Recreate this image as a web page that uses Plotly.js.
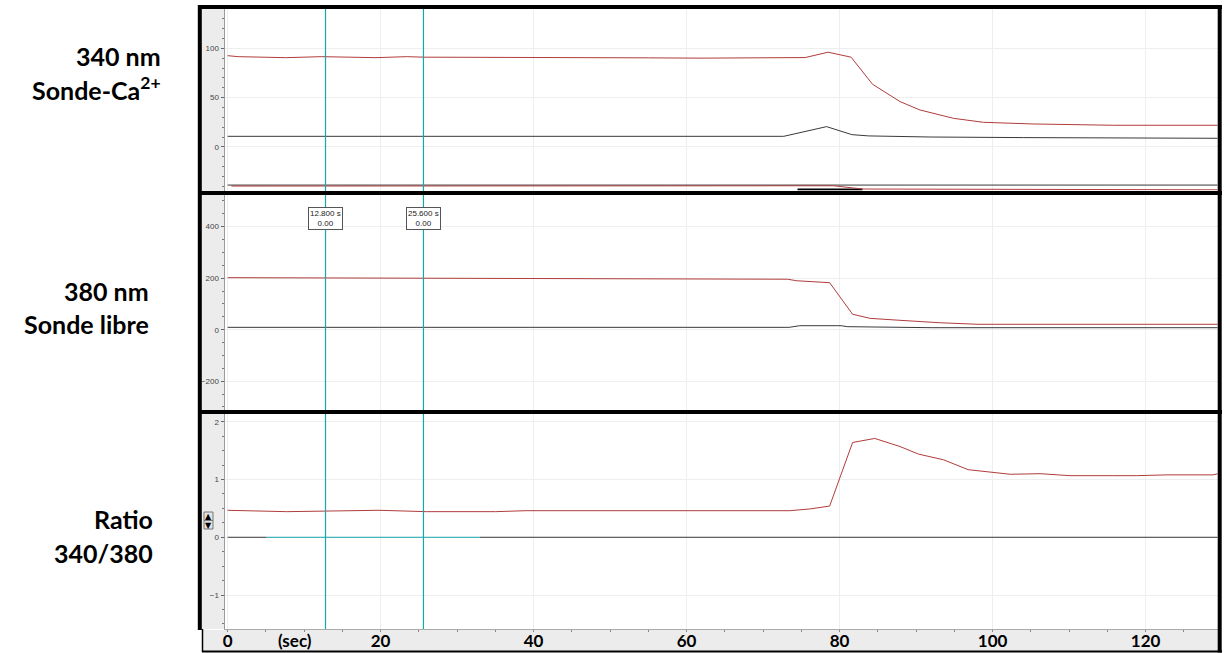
<!DOCTYPE html>
<html><head><meta charset="utf-8">
<script src="https://cdn.plot.ly/plotly-3.0.1.min.js"></script>
<style>html,body{margin:0;padding:0;background:#fff}</style>
</head><body><div id="chart" style="width:1230px;height:653px"></div>
<script>
// ---------- data (time in s) ----------
// Panel 1 : 340 nm (Sonde-Ca2+)
const t340Red = [0, 1.4, 7.6, 12.3, 19.4, 23.4, 25.6, 33, 43.9, 48, 55, 62, 66, 70, 73, 75.5, 78.5, 81.5, 84.3, 87.9, 90.5, 94.9, 98.8, 105.3, 115.8, 129.5];
const v340Red = [92.5, 91.5, 90.5, 91.5, 90.5, 91.5, 91, 91, 90.3, 90.5, 90.3, 90, 90, 90, 90.5, 90.6, 96, 91, 63.6, 46, 37.5, 29, 25, 23.3, 22, 22];
const t340Blk = [0, 72.7, 78.3, 81.6, 83.8, 91.8, 104, 122.4, 129.5];
const v340Blk = [10.8, 10.8, 20.6, 12.5, 11.2, 10.1, 9.5, 8.8, 8.8];
const t340LowBlk = [0, 129.5];
const v340LowBlk = [-38.6, -38.6];
const t340LowRed = [0.5, 4.5, 4.6, 30, 79.2, 83, 129.5];
const v340LowRed = [-39.6, -39.6, -39.3, -39.3, -39.3, -42.6, -43.4];
const t340LowBlk2 = [74.5, 83];
const v340LowBlk2 = [-43.2, -43.2];

// Panel 2 : 380 nm (Sonde libre)
const t380Red = [0, 35, 73.2, 74.4, 78.7, 81.7, 84, 87.9, 93.1, 98.1, 129.5];
const v380Red = [202, 198, 196, 190, 182.5, 60, 44, 36.5, 27, 21, 21];
const t380Blk = [0, 73.4, 74.8, 80.2, 81, 92.1, 129.5];
const v380Blk = [9.2, 9.2, 15.5, 15.5, 11.7, 7.8, 7.8];

// Panel 3 : Ratio 340/380
const tRatio = [0, 7.7, 19.8, 26, 35, 39, 73.5, 76.1, 78.7, 81.7, 84.6, 87.9, 90.3, 93.6, 96.8, 100.1, 102.3, 106.2, 110.1, 115.8, 118.8, 122.8, 128.8, 129.5];
const vRatio = [0.467, 0.443, 0.467, 0.443, 0.443, 0.46, 0.46, 0.49, 0.54, 1.64, 1.71, 1.57, 1.44, 1.34, 1.17, 1.12, 1.09, 1.10, 1.066, 1.066, 1.066, 1.08, 1.08, 1.1];
const tZeroBlk = [0, 5.1];
const vZeroBlk = [0, 0];
const tZeroTeal = [5.1, 33];
const vZeroTeal = [0, 0];
const tZeroBlk2 = [33, 129.5];
const vZeroBlk2 = [0, 0];

// cursors
const cursorTimes = [12.8, 25.6];
const cursorLabels = ['12.800 s', '25.600 s'];
const cursorValues = ['0.00', '0.00'];

// x tick labels
const xTickVals = [0, 20, 40, 60, 80, 100, 120];
const xTickText = ['0', '20', '40', '60', '80', '100', '120'];

// panel labels
const panelLabels = [
  ['340 nm', 'Sonde-Ca<sup>2+</sup>'],
  ['380 nm', 'Sonde libre'],
  ['Ratio', '340/380']
];

// ---------- layout helpers ----------
const W = 1230, H = 653;
const px = x => x / W;
const py = y => 1 - y / H;
const RED = '#b23b3b', BLK = '#3a3a3a', TEAL = '#17a6aa', GRID = '#eeeeee';
const xr = [-0.34, 129.4];
const xdom = [px(225), px(1217.5)];

function ln(x, y, xa, ya, color, w) {
  return {x: x, y: y, xaxis: xa, yaxis: ya, type: 'scatter', mode: 'lines',
          line: {color: color, width: w || 1}, hoverinfo: 'skip', showlegend: false};
}

const data = [
  ln(t340LowBlk, v340LowBlk, 'x', 'y', BLK),
  ln(t340LowBlk2, v340LowBlk2, 'x', 'y', '#000', 2),
  ln(t340LowRed, v340LowRed, 'x', 'y', RED),
  ln(t340Blk, v340Blk, 'x', 'y', BLK),
  ln(t340Red, v340Red, 'x', 'y', RED),
  ln(t380Blk, v380Blk, 'x2', 'y2', BLK),
  ln(t380Red, v380Red, 'x2', 'y2', RED),
  ln(tZeroBlk, vZeroBlk, 'x3', 'y3', BLK),
  ln(tZeroTeal, vZeroTeal, 'x3', 'y3', TEAL),
  ln(tZeroBlk2, vZeroBlk2, 'x3', 'y3', BLK),
  ln(tRatio, vRatio, 'x3', 'y3', RED)
];

const yTickFont = {family: 'Liberation Sans, Arial', size: 8, color: '#444'};
function yax(dom, range, dtick, minorDtick) {
  return {domain: dom, range: range, tickmode: 'linear', tick0: 0, dtick: dtick,
    ticks: 'outside', ticklen: 3, tickcolor: '#666', tickfont: yTickFont,
    showline: true, linecolor: '#9a9a9a', linewidth: 1.5, showgrid: true, gridcolor: GRID,
    zeroline: false, fixedrange: true, ticklabelstandoff: 0,
    minor: {ticks: 'outside', ticklen: 2, dtick: minorDtick, tickcolor: '#777', showgrid: false}};
}
function xax(anchor, showLabels) {
  const a = {domain: xdom, range: xr, anchor: anchor, tickmode: 'array', tickvals: xTickVals,
    ticktext: xTickText, showgrid: true, gridcolor: GRID, zeroline: false, fixedrange: true,
    showticklabels: showLabels, ticks: '', showline: false};
  if (showLabels) {
    a.ticks = 'outside'; a.ticklen = 2; a.tickcolor = '#888';
    a.showline = true; a.linecolor = '#aaaaaa'; a.linewidth = 1;
    a.ticklabelstandoff = -5;
    a.tickfont = {family: 'Lato, Open Sans', size: 17, color: '#000', weight: 'bold'};
    a.minor = {ticks: 'outside', ticklen: 2, dtick: 5, tick0: 0, tickcolor: '#888', showgrid: false};
  }
  return a;
}

const shapes = [
  // left gray strip
  {type: 'rect', xref: 'paper', yref: 'paper', x0: px(200), x1: px(225), y0: py(629), y1: py(9),
   fillcolor: '#ececec', line: {width: 0}, layer: 'below'},
  // bottom axis strip
  {type: 'rect', xref: 'paper', yref: 'paper', x0: px(202), x1: px(1218), y0: py(651), y1: py(630),
   fillcolor: '#ececec', line: {width: 0}, layer: 'below'},
  // up/down button
  {type: 'rect', xref: 'paper', yref: 'paper', x0: px(204), x1: px(213), y0: py(529), y1: py(512),
   fillcolor: '#e2e2e2', line: {color: '#777', width: 1}},
  {type: 'line', xref: 'paper', yref: 'paper', x0: px(204), x1: px(213), y0: py(520.5), y1: py(520.5),
   line: {color: '#777', width: 1}}
];
cursorTimes.forEach(t => shapes.push({type: 'line', xref: 'x', yref: 'paper', x0: t, x1: t,
  y0: py(629), y1: py(9), line: {color: TEAL, width: 1.2}}));
// frame borders
const B = {color: '#000', width: 4};
shapes.push(
  {type: 'line', xref: 'paper', yref: 'paper', x0: px(198), x1: px(1222), y0: py(7), y1: py(7), line: B},
  {type: 'line', xref: 'paper', yref: 'paper', x0: px(198), x1: px(1222), y0: py(193), y1: py(193), line: B},
  {type: 'line', xref: 'paper', yref: 'paper', x0: px(198), x1: px(1222), y0: py(412), y1: py(412), line: B},
  {type: 'line', xref: 'paper', yref: 'paper', x0: px(199.8), x1: px(199.8), y0: py(5), y1: py(630), line: B},
  {type: 'line', xref: 'paper', yref: 'paper', x0: px(1219.7), x1: px(1219.7), y0: py(5), y1: py(652.5), line: B},
  {type: 'line', xref: 'paper', yref: 'paper', x0: px(202.5), x1: px(202.5), y0: py(629), y1: py(652), line: {color: '#000', width: 1.5}},
  {type: 'line', xref: 'paper', yref: 'paper', x0: px(202), x1: px(1222), y0: py(651.5), y1: py(651.5), line: {color: '#000', width: 2}}
);

const labFont = {family: 'Lato, Open Sans', size: 25, color: '#000', weight: 'bold'};
const labPos = [[163, 56, 88], [151, 291, 324], [155, 519, 553]];
const annotations = [];
panelLabels.forEach((pair, i) => {
  const [xr_, y1, y2] = labPos[i];
  annotations.push({xref: 'paper', yref: 'paper', x: px(xr_), y: py(y1), xanchor: 'right', yanchor: 'middle',
    text: '<b>' + pair[0] + '</b>', showarrow: false, font: labFont});
  annotations.push({xref: 'paper', yref: 'paper', x: px(xr_), y: py(y2), xanchor: 'right', yanchor: 'middle',
    text: '<b>' + pair[1] + '</b>', showarrow: false, font: labFont});
});
cursorTimes.forEach((t, i) => annotations.push({xref: 'x2', yref: 'paper', x: t, y: py(218),
  xanchor: 'center', yanchor: 'middle', text: cursorLabels[i] + '<br>' + cursorValues[i], showarrow: false,
  font: {family: 'Liberation Sans, Arial', size: 8, color: '#222'}, bgcolor: '#fff', bordercolor: '#555',
  borderwidth: 1, borderpad: 1}));
annotations.push({xref: 'paper', yref: 'paper', x: px(295), y: py(640), xanchor: 'center', yanchor: 'middle',
  text: '<b>(sec)</b>', showarrow: false, font: {family: 'Lato, Open Sans', size: 17, color: '#000', weight: 'bold'}});
annotations.push({xref: 'paper', yref: 'paper', x: px(208.5), y: py(516.5), xanchor: 'center', yanchor: 'middle',
  text: '▲', showarrow: false, font: {family: 'DejaVu Sans', size: 8, color: '#000'}});
annotations.push({xref: 'paper', yref: 'paper', x: px(208.5), y: py(525), xanchor: 'center', yanchor: 'middle',
  text: '▼', showarrow: false, font: {family: 'DejaVu Sans', size: 8, color: '#000'}});

const layout = {
  width: W, height: H, autosize: false,
  margin: {l: 0, r: 0, t: 0, b: 0, pad: 0},
  paper_bgcolor: '#fff', plot_bgcolor: '#fff',
  showlegend: false,
  xaxis: xax('y', false),
  xaxis2: xax('y2', false),
  xaxis3: xax('y3', true),
  yaxis: Object.assign(yax([py(190.5), py(9)], [-44.1, 139.8], 50, 10), {anchor: 'x'}),
  yaxis2: Object.assign(yax([py(410), py(195)], [-311.8, 523], 200, 50), {anchor: 'x2'}),
  yaxis3: Object.assign(yax([py(629), py(414)], [-1.587, 2.133], 1, 0.25), {anchor: 'x3'}),
  shapes: shapes,
  annotations: annotations
};

Plotly.newPlot('chart', data, layout, {displayModeBar: false, staticPlot: true});
</script></body></html>
